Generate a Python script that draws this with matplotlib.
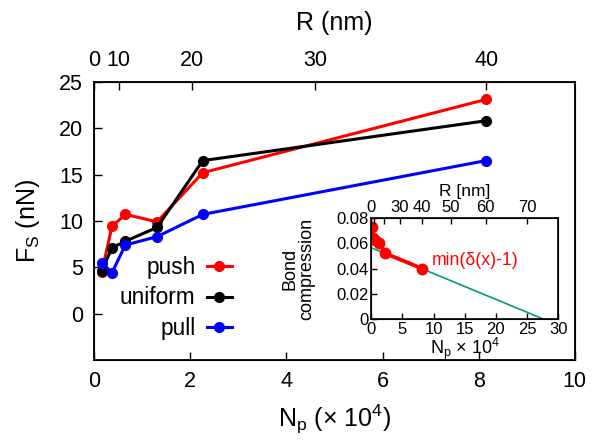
import numpy as np
from matplotlib import pyplot as plt
from matplotlib.ticker import FixedLocator

plt.rcParams['font.family'] = ['Liberation Sans', 'DejaVu Sans']

# main panel data (Np in units of 1e4)
np_vals = [0.16, 0.37, 0.65, 1.31, 2.26, 8.15]
fs_push = [4.5, 9.4, 10.7, 9.9, 15.2, 23.1]
fs_uniform = [4.6, 7.1, 7.8, 9.3, 16.5, 20.8]
fs_pull = [5.5, 4.4, 7.4, 8.3, 10.7, 16.5]

# inset data
bond_comp = [0.073, 0.064, 0.0625, 0.060, 0.052, 0.040]
fit_x = [0.0, 27.6]
fit_y = [0.0565, 0.0]

# R (nm) <-> Np (x 1e4) mapping used for the top axes
R_COEF = 0.0051
main_r_ticks = [0, 10, 20, 30, 40]
inset_r_ticks = [0, 10, 20, 30, 40, 50, 60, 70]
inset_r_labels = ['0', '', '', '30', '40', '50', '60', '70']


def r_to_np(r):
    return R_COEF * np.asarray(r, dtype=float) ** 2


fig = plt.figure(figsize=(5.92, 4.40), dpi=100)
ax = fig.add_axes([0.159, 0.182, 0.812, 0.632])

lw = 2.2
ms = 7
ax.plot(np_vals, fs_push, '-o', color='red', lw=lw, ms=ms, label='push')
ax.plot(np_vals, fs_uniform, '-o', color='black', lw=lw, ms=ms, label='uniform')
ax.plot(np_vals, fs_pull, '-o', color='blue', lw=lw, ms=ms, label='pull')

ax.set_xlim(0, 10)
ax.set_ylim(-5, 25)
ax.set_xticks([0, 2, 4, 6, 8, 10])
ax.set_yticks([0, 5, 10, 15, 20, 25])
ax.tick_params(direction='in', labelsize=15.5, length=6, width=1, pad=8,
               top=False, right=False)
ax.set_xlabel('N$_\\mathregular{p}$ (× 10$^\\mathregular{4}$)', fontsize=18, labelpad=8)
ax.set_ylabel('F$_\\mathregular{S}$ (nN)', fontsize=18, labelpad=12)
for s in ax.spines.values():
    s.set_linewidth(1.3)

leg = ax.legend(loc='lower right', bbox_to_anchor=(0.305, 0.04), frameon=False,
                markerfirst=False, fontsize=16.3, handlelength=1.1,
                handletextpad=0.5, labelspacing=0.32, borderaxespad=0)
for t in leg.get_texts():
    t.set_ha('right')

top = ax.twiny()
top.set_xlim(ax.get_xlim())
top.xaxis.set_major_locator(FixedLocator(r_to_np(main_r_ticks)))
top.set_xticklabels([str(r) for r in main_r_ticks])
top.tick_params(direction='in', labelsize=15.5, length=6, width=1, pad=8)
top.set_xlabel('R (nm)', fontsize=18, labelpad=14)

# inset
ins = fig.add_axes([0.627, 0.275, 0.316, 0.2295])
ins.plot(fit_x, fit_y, '-', color='#009e73', lw=1.2)
ins.plot(np_vals, bond_comp, '-o', color='red', lw=2.8, ms=7.5)
ins.set_xlim(0, 30)
ins.set_ylim(0, 0.08)
ins.set_xticks([0, 5, 10, 15, 20, 25, 30])
ins.set_yticks([0, 0.02, 0.04, 0.06, 0.08])
ins.set_yticklabels(['0', '0.02', '0.04', '0.06', '0.08'])
ins.tick_params(direction='in', labelsize=12, length=4, width=1, pad=2)
ins.set_xlabel('N$_\\mathregular{p}$ × 10$^\\mathregular{4}$', fontsize=13, labelpad=-1)
ins.set_ylabel('Bond\ncompression', fontsize=13, labelpad=15, linespacing=0.95)
ins.text(0.555, 0.58, 'min(δ(x)-1)', color='red', fontsize=12.7,
         transform=ins.transAxes, ha='center', va='center')
for s in ins.spines.values():
    s.set_linewidth(1.2)

ins_top = ins.twiny()
ins_top.set_xlim(ins.get_xlim())
ins_top.xaxis.set_major_locator(FixedLocator(r_to_np(inset_r_ticks)))
ins_top.set_xticklabels(inset_r_labels)
ins_top.tick_params(direction='in', labelsize=12, length=4, width=1, pad=2)
ins_top.set_xlabel('R [nm]', fontsize=12.5, labelpad=3)

fig.savefig('out.png', dpi=100)
